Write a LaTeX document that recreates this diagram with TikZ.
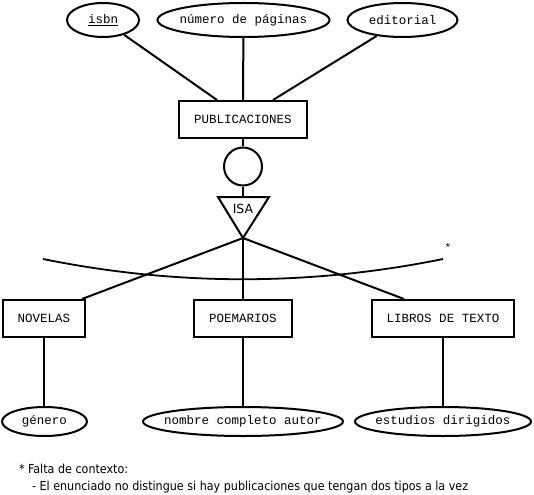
\documentclass[tikz,border=0pt]{standalone}
\usepackage{fontspec}
\setmonofont{Liberation Mono}
\newfontfamily\notefont{DejaVu Sans Condensed}
\newfontfamily\isafont{DejaVu Sans}
\usetikzlibrary{shapes.geometric}
% centred label of zero width, so the ellipse keeps its given size
\newcommand{\lbl}[1]{\makebox[0pt][c]{#1}}

\begin{document}
\begin{tikzpicture}[x=1pt,y=-1pt,line width=2pt,
  attr/.style={draw,ellipse,inner sep=0pt,minimum height=34pt,
    font=\ttfamily\fontsize{12.5}{14}\selectfont},
  battr/.style={attr,minimum height=29pt},
  entity/.style={draw,rectangle,inner sep=0pt,minimum height=37pt,
    font=\ttfamily\fontsize{12.5}{14}\selectfont},
  note/.style={anchor=base west,inner sep=0pt,
    font=\notefont\fontsize{12.4}{14}\selectfont}]
\useasboundingbox (0,0) rectangle (534,494);

% attributes of the supertype
\node[attr,minimum width=72pt]  (isbn)  at (103,20)   {\lbl{\underline{isbn}}};
\node[attr,minimum width=172pt] (pags)  at (243.5,20) {\lbl{número de páginas}};
\node[attr,minimum width=110pt] (edit)  at (402.5,20) {\lbl{editorial}};

% supertype
\node[entity,minimum width=128pt] (pub) at (243,119.5) {PUBLICACIONES};
\node[draw,circle,inner sep=0pt,minimum size=38pt] (circ) at (243,166.5) {};

% ISA triangle
\coordinate (isaL) at (218,197);
\coordinate (isaR) at (269,197);
\coordinate (isaTop) at (243,197);
\coordinate (isaApex) at (243,238);
\draw[line join=miter] (isaL) -- (isaR) -- (isaApex) -- cycle;
\node[inner sep=0pt,font=\isafont\fontsize{12.5}{14}\selectfont] (isa) at (243,209) {ISA};

% subtypes
\node[entity,minimum width=82pt]  (nov)  at (44,318.5)  {NOVELAS};
\node[entity,minimum width=98pt]  (poe)  at (243,318.5) {POEMARIOS};
\node[entity,minimum width=142pt] (lib)  at (443,318.5) {LIBROS DE TEXTO};

% attributes of the subtypes
\node[battr,minimum width=85pt]  (gen)  at (44.5,421.5) {\lbl{género}};
\node[battr,minimum width=200pt] (aut)  at (243,421.5)  {\lbl{nombre completo autor}};
\node[battr,minimum width=176pt] (est)  at (443,421.5)  {\lbl{estudios dirigidos}};

% connectors
\draw (isbn) -- ([xshift=-26pt]pub.north);
\draw (pags) -- (pub.north);
\draw (edit) -- ([xshift=30pt]pub.north);
\draw (pub) -- (circ);
\draw (circ) -- (isaTop);
\draw (isaApex) -- ([xshift=-4pt]nov.north east);
\draw (isaApex) -- (poe.north);
\draw (isaApex) -- ([xshift=33pt]lib.north west);
\draw (nov.south) -- (nov.south |- gen.north);
\draw (poe) -- (aut);
\draw (lib) -- (est);

% overlap arc with its remark mark
\coordinate (arcL) at (43,259);
\coordinate (arcR) at (443,259);
\draw[line width=1.8pt] (arcL) .. controls (176,286) and (310,286) .. (arcR);
\node[inner sep=0pt,font=\ttfamily\fontsize{11}{12}\selectfont] (ast) at (448,248) {*};

% footnote
\node[note] (n1) at (18,473) {* Falta de contexto:};
\node[note] (n2) at (31,490) {- El enunciado no distingue si hay publicaciones que tengan dos tipos a la vez};
\end{tikzpicture}
\end{document}
